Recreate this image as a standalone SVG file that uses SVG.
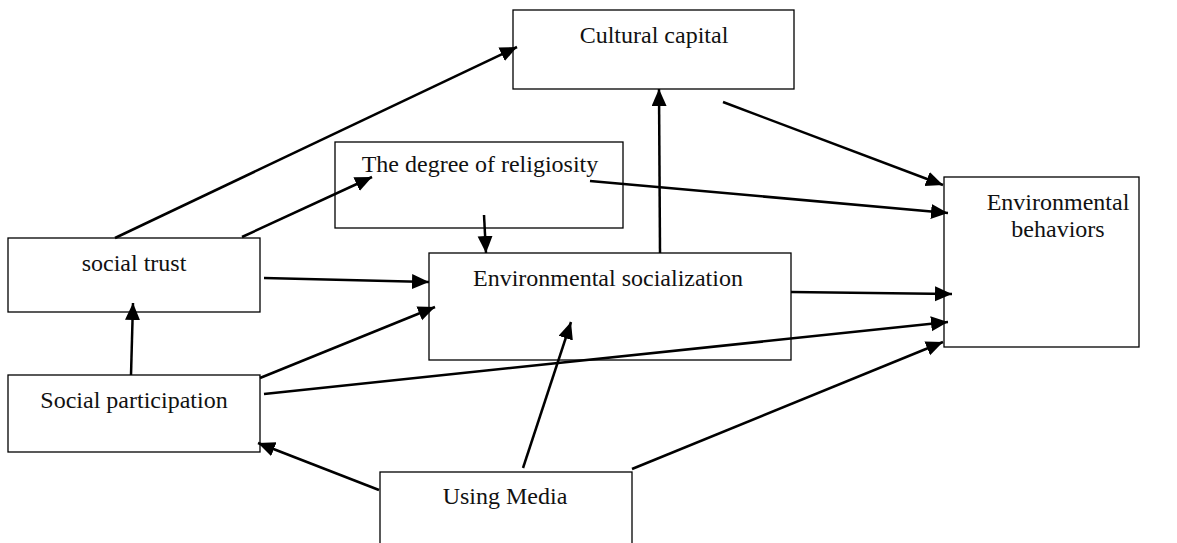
<svg xmlns="http://www.w3.org/2000/svg" width="1177" height="543" viewBox="0 0 1177 543">
<style>
.box{fill:#fff;stroke:#000;stroke-width:1.3}
.t{font-family:"Liberation Serif","Times New Roman",serif;font-size:24px;fill:#111;text-anchor:middle}
.c{stroke:#000;stroke-width:2.5;fill:none}
.a{marker-end:url(#ah)}
</style>
<defs>
<marker id="ah" markerUnits="userSpaceOnUse" markerWidth="18" markerHeight="16" refX="17" refY="7.5" orient="auto">
<path d="M0,0 L17,7.5 L0,15 z" fill="#000"/>
</marker>
</defs>
<rect width="1177" height="543" fill="#fff"/>
<g id="cultural-capital"><rect class="box" x="513" y="10" width="281" height="79"/><text class="t" x="654" y="43">Cultural capital</text></g>
<g id="religiosity"><rect class="box" x="335" y="142" width="288" height="86"/><text class="t" x="480" y="172">The degree of religiosity</text></g>
<g id="env-socialization"><rect class="box" x="429" y="253" width="362" height="107"/><text class="t" x="608" y="286">Environmental socialization</text></g>
<g id="social-trust"><rect class="box" x="8" y="238" width="252" height="74"/><text class="t" x="134" y="271">social trust</text></g>
<g id="social-participation"><rect class="box" x="8" y="375" width="252" height="77"/><text class="t" x="134" y="408">Social participation</text></g>
<g id="using-media"><rect class="box" x="380" y="472" width="252" height="80"/><text class="t" x="505" y="504">Using Media</text></g>
<g id="env-behaviors"><rect class="box" x="944" y="177" width="195" height="170"/><text class="t" x="1058" y="210">Environmental</text><text class="t" x="1058" y="237">behaviors</text></g>
<g id="connectors">
<line class="c a" x1="115" y1="238" x2="517" y2="47"/>
<line class="c a" x1="242" y1="237" x2="372" y2="177"/>
<line class="c a" x1="590" y1="181" x2="948" y2="213"/>
<line class="c a" x1="484" y1="215" x2="486" y2="253"/>
<line class="c a" x1="660" y1="253" x2="659" y2="89"/>
<line class="c a" x1="723" y1="102" x2="943" y2="185"/>
<line class="c a" x1="264" y1="278" x2="429" y2="282"/>
<line class="c a" x1="260" y1="378" x2="435" y2="307"/>
<line class="c a" x1="131" y1="375" x2="133" y2="303"/>
<line class="c a" x1="264" y1="394" x2="948" y2="322"/>
<line class="c a" x1="791" y1="292" x2="952" y2="294"/>
<line class="c a" x1="523" y1="468" x2="571" y2="322"/>
<line class="c a" x1="379" y1="490" x2="258" y2="443"/>
<line class="c a" x1="632" y1="469" x2="943" y2="342"/>
</g>
</svg>
